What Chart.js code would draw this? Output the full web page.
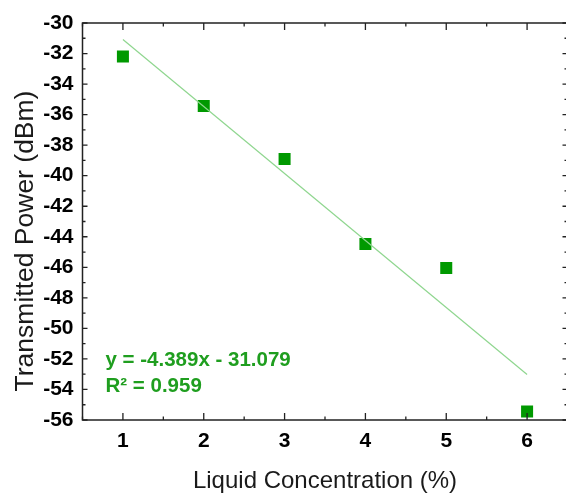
<!DOCTYPE html>
<html lang="en">
<head>
  <meta charset="UTF-8">
  <title>Transmitted Power vs Liquid Concentration</title>
  <script src="https://cdn.jsdelivr.net/npm/chart.js"></script>
  <style>
    html, body { margin: 0; padding: 0; background: #fff; overflow: hidden; }
    #wrap { width: 576px; height: 496px; }
  </style>
</head>
<body>
  <div id="wrap"><canvas id="powerChart" width="576" height="496"></canvas></div>
  <script>
    // measured points
    const concentration = [1, 2, 3, 4, 5, 6];
    const power = [-32.2, -35.44, -38.9, -44.47, -46.04, -55.45];

    // linear fit, drawn between the first and last concentration
    const trendX = [1, 6];
    const trendY = [-31.079, -53.024];
    const fitLabel = ['y = -4.389x - 31.079', 'R\u00b2 = 0.959'];

    const xTicks = [1, 2, 3, 4, 5, 6];
    const yTicks = [-30, -32, -34, -36, -38, -40, -42, -44, -46, -48, -50, -52, -54, -56];

    const FONT = "'Liberation Sans', Arial, sans-serif";

    // box around the plot with inward major/minor ticks on all four sides
    const frame = {
      id: 'frame',
      afterDraw(chart) {
        const { ctx, chartArea: a, scales: { x, y } } = chart;
        ctx.save();
        ctx.strokeStyle = '#222';
        ctx.lineWidth = 1.5;
        ctx.strokeRect(a.left, a.top, a.right - a.left, a.bottom - a.top);
        ctx.lineWidth = 1.3;
        ctx.beginPath();
        for (let v = 0.5; v <= 6.5; v += 0.5) {
          const px = x.getPixelForValue(v);
          const len = Number.isInteger(v) ? 7 : 3.5;
          ctx.moveTo(px, a.bottom); ctx.lineTo(px, a.bottom - len);
          ctx.moveTo(px, a.top); ctx.lineTo(px, a.top + len);
        }
        for (let v = -56; v <= -30; v += 1) {
          const py = y.getPixelForValue(v);
          const len = v % 2 === 0 ? 5 : 3;
          ctx.moveTo(a.left, py); ctx.lineTo(a.left + len, py);
          ctx.moveTo(a.right, py); ctx.lineTo(a.right - len, py);
        }
        ctx.stroke();

        // axis titles
        ctx.fillStyle = '#1a1a1a';
        ctx.textAlign = 'center';
        ctx.textBaseline = 'alphabetic';
        ctx.font = '24px ' + FONT;
        ctx.fillText('Liquid Concentration (%)', (a.left + a.right) / 2, 488);
        ctx.font = '26.5px ' + FONT;
        ctx.translate(33, 241);
        ctx.rotate(-Math.PI / 2);
        ctx.fillText('Transmitted Power (dBm)', 0, 0);
        ctx.restore();

        // fit equation
        ctx.save();
        ctx.fillStyle = '#1f9e1f';
        ctx.font = 'bold 20.5px ' + FONT;
        ctx.textAlign = 'left';
        ctx.textBaseline = 'alphabetic';
        fitLabel.forEach((t, i) => ctx.fillText(t, a.left + 23, 366 + i * 26));
        ctx.restore();
      }
    };

    new Chart(document.getElementById('powerChart'), {
      type: 'scatter',
      data: {
        datasets: [
          {
            label: 'Measured',
            data: concentration.map((c, i) => ({ x: c, y: power[i] })),
            pointStyle: 'rect',
            pointRadius: 8.5,
            pointBorderWidth: 0,
            backgroundColor: '#009900',
            borderColor: '#009900',
            order: 1
          },
          {
            label: 'Linear fit',
            type: 'line',
            data: trendX.map((c, i) => ({ x: c, y: trendY[i] })),
            borderColor: '#8fd68f',
            borderWidth: 1.2,
            pointRadius: 0,
            fill: false,
            order: 0
          }
        ]
      },
      options: {
        responsive: false,
        animation: false,
        layout: { padding: { top: 23, right: 4, bottom: 0, left: 0 } },
        plugins: { legend: { display: false }, tooltip: { enabled: false } },
        scales: {
          x: {
            type: 'linear',
            min: 0.5,
            max: 6.5,
            grid: { display: false, drawTicks: false },
            border: { display: false },
            afterBuildTicks: s => { s.ticks = xTicks.map(v => ({ value: v })); },
            afterFit: s => { s.height = 76; },
            ticks: { color: '#000', padding: 9, font: { family: FONT, size: 21, weight: 'bold' } }
          },
          y: {
            type: 'linear',
            min: -56,
            max: -30,
            grid: { display: false, drawTicks: false },
            border: { display: false },
            afterBuildTicks: s => { s.ticks = yTicks.map(v => ({ value: v })); },
            afterFit: s => { s.width = 82.5; },
            ticks: { color: '#000', padding: 9, font: { family: FONT, size: 21, weight: 'bold' } }
          }
        }
      },
      plugins: [frame]
    });
  </script>
</body>
</html>
